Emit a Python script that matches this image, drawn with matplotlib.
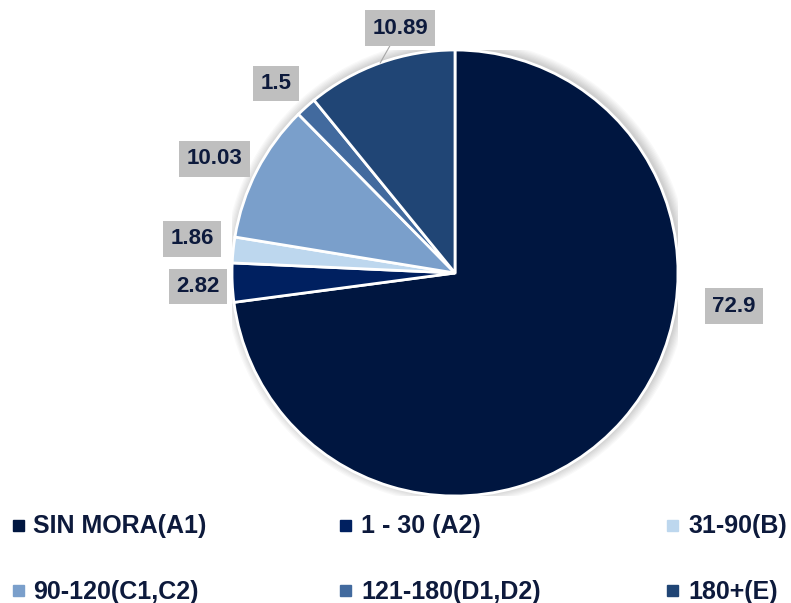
import matplotlib
matplotlib.use('Agg')
import numpy as np
import matplotlib.pyplot as plt
from matplotlib.patches import Rectangle, Circle

categories = ['SIN MORA(A1)', '1 - 30 (A2)', '31-90(B)',
              '90-120(C1,C2)', '121-180(D1,D2)', '180+(E)']
values = [72.9, 2.82, 1.86, 10.03, 1.5, 10.89]
value_labels = ['72.9', '2.82', '1.86', '10.03', '1.5', '10.89']
colors = ['#001640', '#002060', '#bdd7ee', '#7a9fcb', '#426a9e', '#204575']

W, H = 791, 603
fig = plt.figure(figsize=(W / 100, H / 100), dpi=100)
cx, cy, r = 455, 273, 223
ax = fig.add_axes([(cx - r) / W, (H - cy - r) / H, 2 * r / W, 2 * r / H])

# soft shadow around the pie
for k in range(8):
    ax.add_patch(Circle((2.0 / r, 1.5 / r), 1 + (k + 1) * 1.2 / r, color='black',
                        alpha=0.025, lw=0, zorder=0))

wedges, _ = ax.pie(values, colors=colors, startangle=90, counterclock=False,
                   radius=1, wedgeprops=dict(edgecolor='white', linewidth=2, zorder=2))
ax.set_xlim(-1, 1)
ax.set_ylim(-1, 1)
ax.set_aspect('equal')
ax.axis('off')

# label box centres, pixel offsets from pie centre (right, up)
label_offsets = [(279, -33), (-257, -13.5), (-263, 34), (-240.5, 114),
                 (-179, 189.5), (-55, 245)]
text_color = '#0d1a3c'
font = ['Liberation Sans', 'DejaVu Sans']
for i, (w, lab, (dx, dy)) in enumerate(zip(wedges, value_labels, label_offsets)):
    mid = np.deg2rad((w.theta1 + w.theta2) / 2)
    lx, ly = dx / r, dy / r
    kw = dict(ha='center', va='center', fontsize=16, fontweight='bold',
              color=text_color, family=font, zorder=5,
              bbox=dict(boxstyle='square,pad=0.33', fc='#bfbfbf', ec='none'))
    if i == 5:
        ax.annotate(lab, xy=(np.cos(mid), np.sin(mid)), xytext=(lx, ly),
                    arrowprops=dict(arrowstyle='-', color='#a6a6a6', lw=0.8,
                                    shrinkA=0, shrinkB=0), **kw)
    else:
        ax.text(lx, ly, lab, **kw)

# legend (3 columns x 2 rows)
marker_x = [13, 340, 667]
text_x = [33, 361, 688]
row_y = [525, 590]
for k, (cat, col) in enumerate(zip(categories, colors)):
    row, c = divmod(k, 3)
    y = row_y[row]
    fig.add_artist(Rectangle((marker_x[c] / W, 1 - (y + 5.5) / H), 11 / W, 11 / H,
                             transform=fig.transFigure, color=col))
    fig.text(text_x[c] / W, 1 - (y + 8.5) / H, cat, ha='left', va='baseline',
             fontsize=18, fontweight='bold', color=text_color, family=font)

fig.savefig('out.png', dpi=100)
